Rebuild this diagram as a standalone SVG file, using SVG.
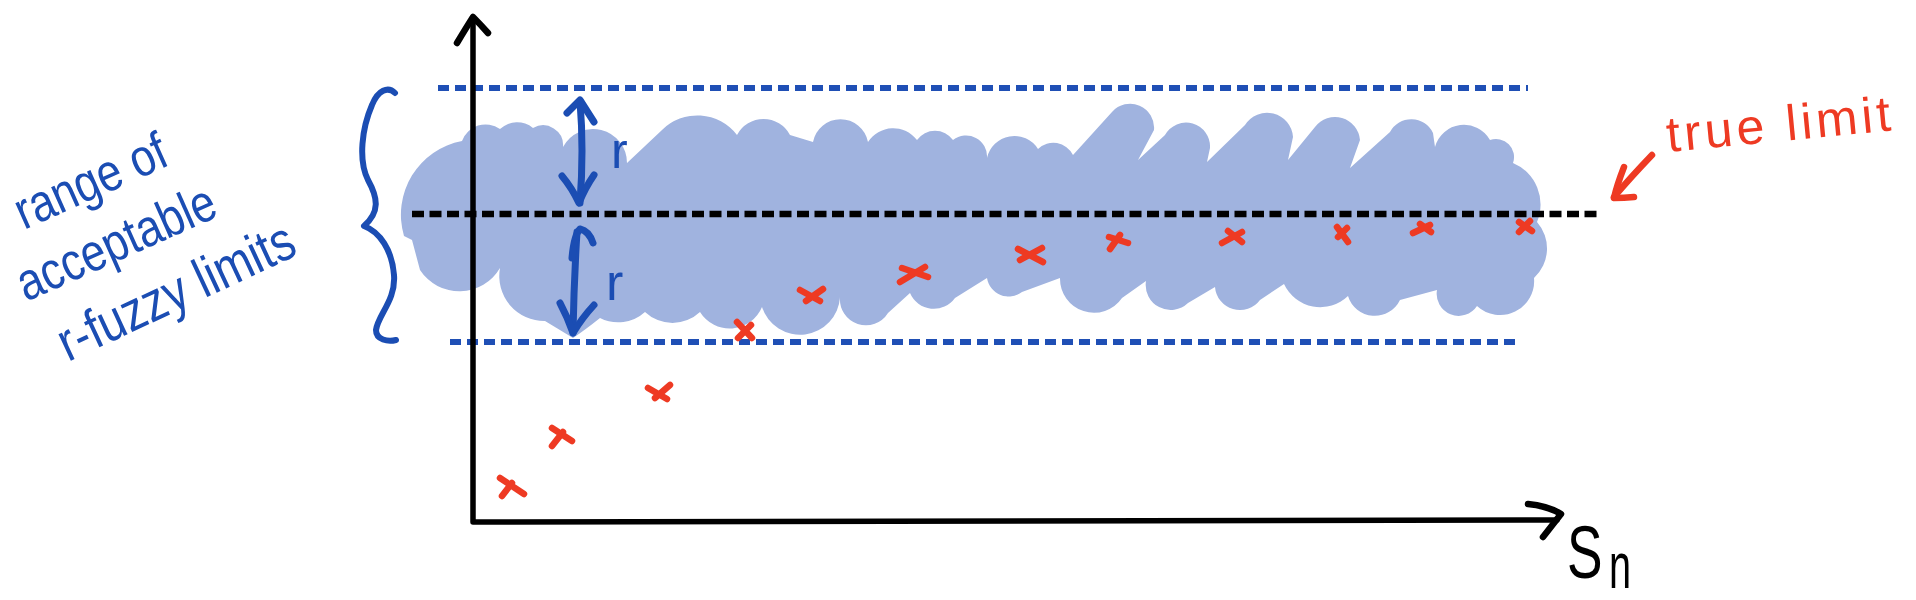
<svg xmlns="http://www.w3.org/2000/svg" width="1916" height="600" viewBox="0 0 1916 600">
<style>
.ink{fill:none;stroke-linecap:round;stroke-linejoin:round}
.blue{stroke:#1b4db3}
.red{stroke:#ee3a23}
.blk{stroke:#000}
.bdash{fill:none;stroke:#1f4fb5;stroke-width:6;stroke-dasharray:11 6}
.kdash{fill:none;stroke:#000;stroke-width:6.5;stroke-dasharray:12 5.5}
.hand{font-family:"Liberation Sans",Arial,sans-serif}
.x{fill:none;stroke:#ee3a23;stroke-width:6.5;stroke-linecap:round}
</style>
<rect width="1916" height="600" fill="#fff"/>
<g id="band">
<path fill="#a0b3df" d="M404,236 A75 75 0 0 1 462,141 A25 25 0 0 1 500,129 A25 25 0 0 1 533,128 A20 20 0 0 1 563,147 A34 34 0 0 1 627,163 L662,130 A50 50 0 0 1 737,135 A30 30 0 0 1 790,135 L813,142 A28 28 0 0 1 868,142 A30 30 0 0 1 917,140 A22 22 0 0 1 953,140 A21 21 0 0 1 987,158 A28 28 0 0 1 1038,149 A22 22 0 0 1 1073,155 L1112,112 A24 24 0 0 1 1154,130 L1138,160 L1165,135 A24 24 0 0 1 1210,148 L1207,162 L1245,125 A26 26 0 0 1 1293,137 L1288,160 L1315,127 A25 25 0 0 1 1360,140 L1350,168 L1390,132 A24 24 0 0 1 1433,133 L1435,147 A30 30 0 0 1 1490,140 A18 18 0 0 1 1513,163 A45 45 0 0 1 1537,222 A40 40 0 0 1 1534,278 A34 34 0 0 1 1477,306 A22 22 0 0 1 1437,290 L1400,300 A28 28 0 0 1 1348,296 A40 40 0 0 1 1284,284 L1260,300 A25 25 0 0 1 1215,287 L1188,303 A25 25 0 0 1 1146,281 L1122,298 A34 34 0 0 1 1060,278 L1022,292 A22 22 0 0 1 987,278 L955,298 A26 26 0 0 1 910,293 L888,313 A26 26 0 0 1 840,297 A40 40 0 0 1 762,307 A35 35 0 0 1 700,312 A40 40 0 0 1 645,312 A40 40 0 0 1 600,318 Q585,330 573,338 Q560,330 545,321 A45 45 0 0 1 500,268 A47 47 0 0 1 420,270 L412,240 Z"/>
</g>
<g id="guides">
<line class="bdash" x1="438" y1="88" x2="1528" y2="88"/>
<line class="bdash" x1="450" y1="342" x2="1521" y2="342"/>
<line class="kdash" x1="412" y1="214" x2="1602" y2="214"/>
</g>
<g id="axes" class="ink blk">
<path d="M473,18 L473,522 L1557,520" stroke-width="5.5"/>
<path d="M457,43 Q466,28 473,17 Q480,24 488,33" stroke-width="6.5"/>
<path d="M1528,504 Q1548,506 1561,514 L1543,537" stroke-width="6.5"/>
</g>
<g id="connectors" class="ink">
<g id="r-upper" class="blue" stroke-width="7">
<path d="M580,101 Q584,150 580,203"/>
<path d="M567,113 L580,100 L594,122"/>
<path d="M562,176 Q572,188 579,203 Q585,188 594,175"/>
</g>
<g id="r-lower" class="blue" stroke-width="7">
<path d="M577,232 Q574,280 573,333"/>
<path d="M572,258 Q574,235 580,229 Q589,231 593,243"/>
<path d="M560,303 Q568,318 573,333 Q582,318 594,305"/>
</g>
<path id="brace" class="blue" stroke-width="6" d="M395,93 C388,86 378,90 372,105 C362,128 358,160 368,180 C378,198 380,212 364,226 C380,232 392,250 394,275 C396,300 378,315 376,330 C376,340 388,342 396,340"/>
<g id="true-limit-arrow" class="red" stroke-width="6.5">
<path d="M1652,155 Q1630,178 1614,197"/>
<path d="M1624,167 Q1617,185 1614,198 Q1624,198 1634,197"/>
</g>
</g>
<g id="points">
<path class="x" d="M500,478 L524,494 M512,483 L502,496"/>
<path class="x" d="M552,428 L572,441 M563,432 L552,446"/>
<path class="x" d="M648,388 L667,399 M670,385 L655,398"/>
<path class="x" d="M737,322 L752,338 M751,325 L738,338"/>
<path class="x" d="M800,290 L820,301 M823,289 L806,301"/>
<path class="x" d="M902,268 L928,277 M925,267 L900,282"/>
<path class="x" d="M1018,249 L1043,262 M1042,248 L1020,260"/>
<path class="x" d="M1109,237 L1128,243 M1120,235 L1110,249"/>
<path class="x" d="M1222,243 L1242,232 M1228,231 L1242,242"/>
<path class="x" d="M1337,227 L1348,242 M1347,228 L1338,237"/>
<path class="x" d="M1413,233 L1430,225 M1420,224 L1431,232"/>
<path class="x" d="M1519,222 L1532,231 M1530,221 L1519,232"/>
</g>
<g id="labels" class="hand">
<text fill="#1b4db3" font-size="44" transform="translate(24,230) rotate(-24) scale(1,1.2)">range of</text>
<text fill="#1b4db3" font-size="44" transform="translate(26,302) rotate(-24) scale(1,1.2)">acceptable</text>
<text fill="#1b4db3" font-size="46" transform="translate(68,362) rotate(-25) scale(1,1.2)">r-fuzzy limits</text>
<text fill="#1b4db3" font-size="50" x="611" y="168">r</text>
<text fill="#1b4db3" font-size="52" x="606" y="300">r</text>
<text fill="#ee3a23" font-size="50" letter-spacing="4" transform="translate(1668,152) rotate(-5.5)">true limit</text>
<text fill="#000" font-size="74" transform="translate(1567,578) scale(0.72,1)">S</text>
<text fill="#000" font-size="64" transform="translate(1609,588) scale(0.62,1)">n</text>
</g>
</svg>
